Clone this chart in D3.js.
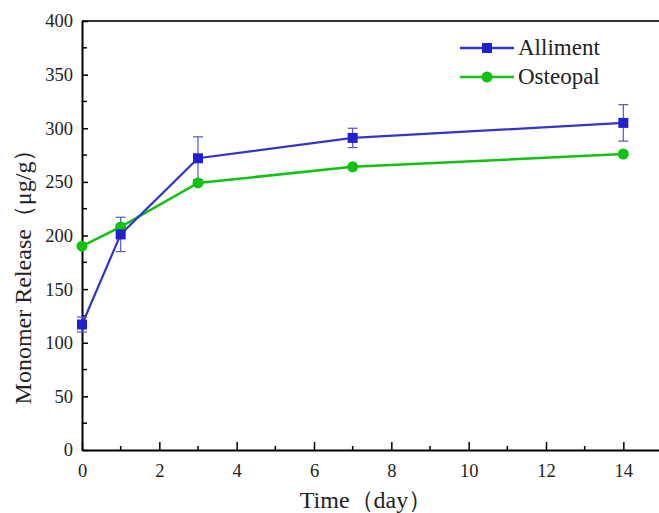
<!DOCTYPE html>
<html>
<head>
<meta charset="utf-8">
<script src="https://cdn.jsdelivr.net/npm/d3@7/dist/d3.min.js"></script>
<style>
  body { margin: 0; background: #fff; }
  svg { display: block; font-family: "Liberation Serif", "DejaVu Serif", serif; }
</style>
</head>
<body>
<div id="chart"></div>
<script>
// dados
const days = [0, 1, 3, 7, 14];
const allimentValues = [117, 201, 272, 291, 305];
const allimentErrors = [7, 16, 20, 9, 17];
const osteopalValues = [190, 208, 249, 264, 276];
const seriesNames = ["Alliment", "Osteopal"];
const xTicks = [0, 2, 4, 6, 8, 10, 12, 14];
const yTicks = [0, 50, 100, 150, 200, 250, 300, 350, 400];

const width = 659, height = 513;
const margin = { top: 21, right: -3, bottom: 63, left: 82 };
const serif = "'Liberation Serif', serif";

const svg = d3.select("#chart")
    .append("svg")
    .attr("width", width)
    .attr("height", height);

// Escalas
const x = d3.scaleLinear().domain([0, 15]).range([margin.left, width - margin.right]);
const y = d3.scaleLinear().domain([0, 400]).range([height - margin.bottom, margin.top]);

const blue = "#2020cc", blueLine = "#3434c8", green = "#11c311";

// Moldura (topo)
svg.append("line")
    .attr("x1", x(0)).attr("x2", x(15))
    .attr("y1", y(400)).attr("y2", y(400))
    .attr("stroke", "#333").attr("stroke-width", 2);

// Eixo X com ticks para dentro
const xAxis = svg.append("g")
    .attr("transform", `translate(0,${y(0)})`)
    .call(d3.axisBottom(x).tickValues(xTicks).tickSizeInner(-8).tickSizeOuter(0).tickPadding(14));
xAxis.append("g").selectAll("line")
    .data(d3.range(1, 15, 2))
    .enter().append("line")
    .attr("x1", d => x(d)).attr("x2", d => x(d))
    .attr("y1", 0).attr("y2", -4)
    .attr("stroke", "#000").attr("stroke-width", 1.5);

// Eixo Y com ticks para dentro
const yAxis = svg.append("g")
    .attr("transform", `translate(${x(0)},0)`)
    .call(d3.axisLeft(y).tickValues(yTicks).tickSizeInner(-6).tickSizeOuter(0).tickPadding(9));
yAxis.append("g").selectAll("line")
    .data(d3.range(25, 400, 50))
    .enter().append("line")
    .attr("y1", d => y(d)).attr("y2", d => y(d))
    .attr("x1", 0).attr("x2", 5)
    .attr("stroke", "#000").attr("stroke-width", 1.5);

[xAxis, yAxis].forEach(ax => {
    ax.attr("font-family", serif).attr("font-size", 18.5);
    ax.select(".domain").attr("stroke", "#000").attr("stroke-width", 2);
    ax.selectAll(".tick line").attr("stroke", "#000").attr("stroke-width", 1.5);
    ax.selectAll("text").attr("fill", "#222");
});

// Labels dos eixos
svg.append("text")
    .attr("x", 366)
    .attr("y", 508)
    .attr("text-anchor", "middle")
    .attr("font-family", serif)
    .attr("font-size", 24)
    .attr("fill", "#222")
    .text("Time（day）");

svg.append("text")
    .attr("transform", "rotate(-90)")
    .attr("x", -271)
    .attr("y", 31)
    .attr("text-anchor", "middle")
    .attr("font-family", serif)
    .attr("font-size", 24)
    .attr("fill", "#222")
    .text("Monomer Release（μg/g）");

const line = d3.line().x(d => x(d[0])).y(d => y(d[1]));

// Osteopal
const osteoData = days.map((d, i) => [d, osteopalValues[i]]);
svg.append("path")
    .datum(osteoData)
    .attr("d", line)
    .attr("fill", "none")
    .attr("stroke", green)
    .attr("stroke-width", 2.5);

// Alliment
const allData = days.map((d, i) => [d, allimentValues[i], allimentErrors[i]]);
svg.append("path")
    .datum(allData)
    .attr("d", line)
    .attr("fill", "none")
    .attr("stroke", blueLine)
    .attr("stroke-width", 2.2);

// Barras de erro
const err = svg.append("g").attr("stroke", "#5555cc").attr("stroke-width", 1.2);
allData.forEach(d => {
    const cx = x(d[0]);
    err.append("line").attr("x1", cx).attr("x2", cx).attr("y1", y(d[1] + d[2])).attr("y2", y(d[1] - d[2]));
    err.append("line").attr("x1", cx - 5).attr("x2", cx + 5).attr("y1", y(d[1] + d[2])).attr("y2", y(d[1] + d[2]));
    err.append("line").attr("x1", cx - 5).attr("x2", cx + 5).attr("y1", y(d[1] - d[2])).attr("y2", y(d[1] - d[2]));
});

svg.selectAll(".osteo-pt")
    .data(osteoData)
    .enter().append("circle")
    .attr("cx", d => x(d[0]))
    .attr("cy", d => y(d[1]))
    .attr("r", 5.5)
    .attr("fill", green);

svg.selectAll(".all-pt")
    .data(allData)
    .enter().append("rect")
    .attr("x", d => x(d[0]) - 5)
    .attr("y", d => y(d[1]) - 5)
    .attr("width", 10)
    .attr("height", 10)
    .attr("fill", blue);

// Legenda
const legend = svg.append("g").attr("transform", "translate(460,0)");
const legendY = [48, 77];
const legendColors = [blueLine, green];
seriesNames.forEach((name, i) => {
    legend.append("line")
        .attr("x1", 0).attr("x2", 54)
        .attr("y1", legendY[i]).attr("y2", legendY[i])
        .attr("stroke", legendColors[i]).attr("stroke-width", 2.5);
    if (i === 0) {
        legend.append("rect")
            .attr("x", 22).attr("y", legendY[i] - 5)
            .attr("width", 10).attr("height", 10)
            .attr("fill", blue);
    } else {
        legend.append("circle")
            .attr("cx", 27).attr("cy", legendY[i])
            .attr("r", 5.5).attr("fill", green);
    }
    legend.append("text")
        .attr("x", 58)
        .attr("y", legendY[i] + 7)
        .attr("font-family", serif)
        .attr("font-size", 23)
        .attr("fill", "#222")
        .text(name);
});
</script>
</body>
</html>
